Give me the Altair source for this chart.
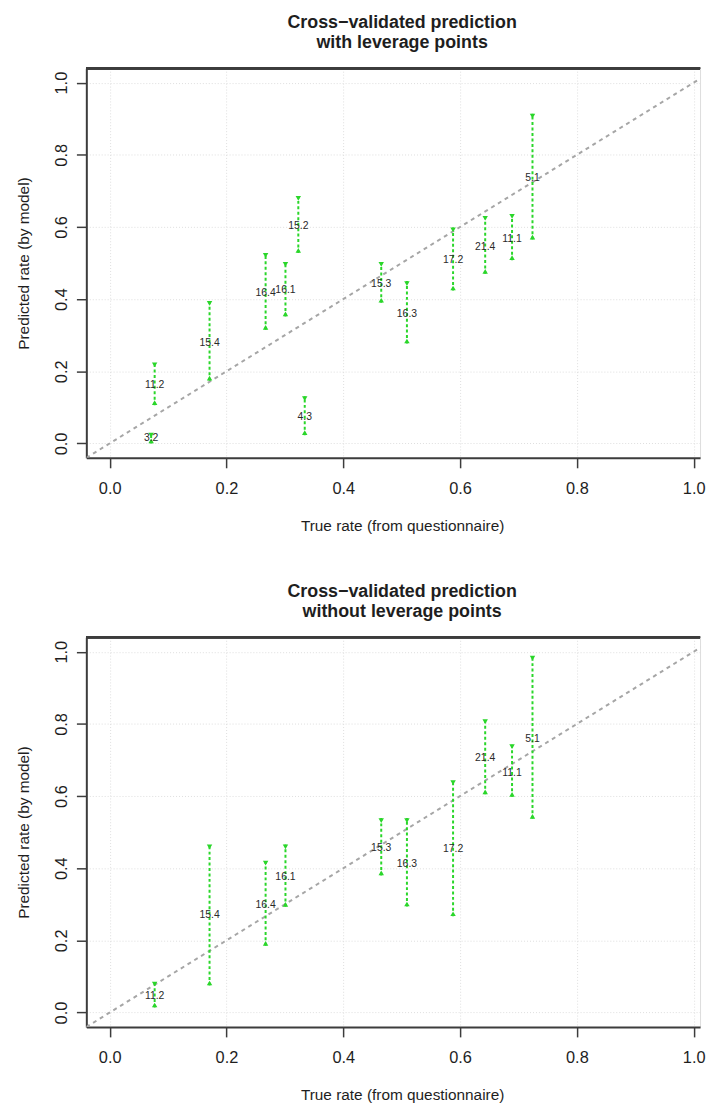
import altair as alt
import pandas as pd

# ---- data ----
labels_top = ["3.2", "11.2", "15.4", "16.4", "16.1", "15.2", "4.3", "15.3", "16.3", "17.2", "21.4", "11.1", "5.1"]
x_top = [0.071, 0.077, 0.171, 0.267, 0.301, 0.323, 0.334, 0.465, 0.509, 0.588, 0.643, 0.689, 0.724]
lo_top = [0.000, 0.106, 0.174, 0.315, 0.352, 0.528, 0.023, 0.390, 0.277, 0.424, 0.470, 0.508, 0.565]
hi_top = [0.030, 0.225, 0.395, 0.528, 0.503, 0.686, 0.131, 0.503, 0.450, 0.599, 0.631, 0.636, 0.914]
mid_top = [0.015, 0.163, 0.278, 0.418, 0.426, 0.603, 0.073, 0.443, 0.358, 0.508, 0.545, 0.567, 0.736]

labels_bot = ["11.2", "15.4", "16.4", "16.1", "15.3", "16.3", "17.2", "21.4", "11.1", "5.1"]
x_bot = [0.077, 0.171, 0.267, 0.301, 0.465, 0.509, 0.588, 0.643, 0.689, 0.724]
lo_bot = [0.014, 0.075, 0.185, 0.293, 0.380, 0.294, 0.267, 0.605, 0.598, 0.537]
hi_bot = [0.086, 0.466, 0.421, 0.466, 0.539, 0.539, 0.644, 0.813, 0.744, 0.989]
mid_bot = [0.045, 0.269, 0.299, 0.375, 0.456, 0.413, 0.452, 0.706, 0.665, 0.759]

tick_values = [0.0, 0.2, 0.4, 0.6, 0.8, 1.0]
axis_lim = [-0.04, 1.04]

title_top = ["Cross\u2212validated prediction", "with leverage points"]
title_bot = ["Cross\u2212validated prediction", "without leverage points"]
x_title = "True rate (from questionnaire)"
y_title = "Predicted rate (by model)"

# ---- layout / style ----
W = 619
H = 393
XMAX = -0.04 + W / 589.0
FONT = "Liberation Sans"
GREEN = "#2ad62a"
BOX = "#3c3c3c"
TXT = "#1e1e1e"


def make_panel(title, labels, xs, lo, hi, mid):
    df = pd.DataFrame({"label": labels, "x": xs, "lo": lo, "hi": hi, "mid": mid})
    diag = pd.DataFrame({"x": axis_lim, "y": axis_lim})

    xs_ = alt.Scale(domain=[axis_lim[0], XMAX], nice=False, zero=False)
    ys_ = alt.Scale(domain=axis_lim, nice=False, zero=False)
    xax = alt.Axis(
        title=x_title, values=tick_values, format=".1f", grid=True,
        gridColor="#dedede", gridDash=[1, 2], gridWidth=1,
        domainColor=BOX, domainWidth=2, tickColor=BOX, tickWidth=1.5, tickSize=10,
        labelFont=FONT, labelFontSize=16.5, labelColor=TXT, labelPadding=13,
        labelFlush=False, labelOverlap=False,
        titleFont=FONT, titleFontSize=15.5, titleFontWeight="normal", titleColor=TXT,
        titlePadding=22, titleX=318.5,
    )
    yax = alt.Axis(
        title=y_title, values=tick_values, format=".1f", grid=True,
        gridColor="#dedede", gridDash=[1, 2], gridWidth=1,
        domainColor=BOX, domainWidth=2, tickColor=BOX, tickWidth=1.5, tickSize=10,
        labelFont=FONT, labelFontSize=16.5, labelColor=TXT, labelPadding=7,
        labelAngle=270, labelAlign="center", labelBaseline="bottom",
        labelFlush=False, labelOverlap=False,
        titleFont=FONT, titleFontSize=15.5, titleFontWeight="normal", titleColor=TXT,
        titlePadding=22,
    )

    base = alt.Chart(df)
    diag_line = alt.Chart(diag).mark_line(
        color="#a6a6a6", strokeDash=[4, 4], strokeWidth=2, clip=True
    ).encode(
        x=alt.X("x:Q", scale=xs_, axis=xax),
        y=alt.Y("y:Q", scale=ys_, axis=yax),
    )
    bars = base.mark_rule(color=GREEN, strokeDash=[3, 2.5], strokeWidth=2).encode(
        x=alt.X("x:Q", scale=xs_, axis=xax),
        y=alt.Y("lo:Q", scale=ys_, axis=yax),
        y2="hi:Q",
    )
    tops = base.mark_point(shape="triangle-down", filled=True, color=GREEN,
                           size=30, opacity=1, yOffset=2.5).encode(
        x=alt.X("x:Q", scale=xs_, axis=xax),
        y=alt.Y("hi:Q", scale=ys_, axis=yax),
    )
    bots = base.mark_point(shape="triangle-up", filled=True, color=GREEN,
                           size=30, opacity=1, yOffset=-2.5).encode(
        x=alt.X("x:Q", scale=xs_, axis=xax),
        y=alt.Y("lo:Q", scale=ys_, axis=yax),
    )
    texts = base.mark_text(font=FONT, fontSize=10.5, color="#2a2a2a",
                           align="center", baseline="middle").encode(
        x=alt.X("x:Q", scale=xs_, axis=xax),
        y=alt.Y("mid:Q", scale=ys_, axis=yax),
        text="label:N",
    )
    top_border = alt.Chart(df).mark_rule(color=BOX, strokeWidth=2).encode(
        x=alt.value(0), x2=alt.value(W), y=alt.value(0)
    )

    return alt.layer(diag_line, bars, tops, bots, texts, top_border).properties(
        width=W, height=H,
        title=alt.TitleParams(
            text=title, font=FONT, fontSize=18, fontWeight="bold", color=TXT,
            lineHeight=20, offset=-2.4, dx=9, anchor="middle", baseline="bottom",
        ),
    )


chart = alt.vconcat(
    make_panel(title_top, labels_top, x_top, lo_top, hi_top, mid_top),
    make_panel(title_bot, labels_bot, x_bot, lo_bot, hi_bot, mid_bot),
    spacing=47,
).properties(
    padding={"left": 8, "top": 0, "right": 0, "bottom": 0}
).configure_view(stroke=None).configure(background="white")

chart.save("out.html", embed_options={"renderer": "svg", "actions": False})
